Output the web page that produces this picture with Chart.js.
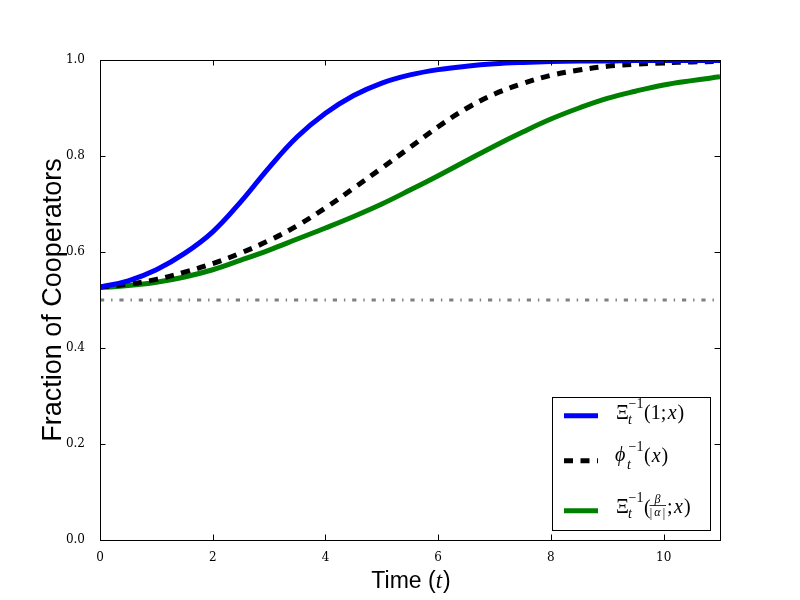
<!DOCTYPE html>
<html>
<head>
<meta charset="utf-8">
<script src="https://cdn.jsdelivr.net/npm/chart.js@4"></script>
<style>
  html, body { margin: 0; padding: 0; background: #fff; }
  canvas { display: block; }
</style>
</head>
<body>
<canvas id="c" width="800" height="600"></canvas>
<script>
// ---- data ----
const times = [0, 0.5, 1, 1.5, 2, 2.5, 3, 3.5, 4, 4.5, 5, 5.5, 6, 6.5, 7, 7.5, 8, 8.5, 9, 9.5, 10, 10.5, 11];
const xiOne = [0.527, 0.540, 0.563, 0.597, 0.642, 0.705, 0.776, 0.840, 0.889, 0.926, 0.952, 0.969, 0.980, 0.987, 0.992, 0.995, 0.997, 0.998, 0.998, 0.999, 0.999, 0.999, 0.999];
const phiInv = [0.527, 0.533, 0.543, 0.558, 0.576, 0.598, 0.624, 0.655, 0.692, 0.733, 0.775, 0.818, 0.861, 0.899, 0.929, 0.951, 0.968, 0.979, 0.987, 0.991, 0.994, 0.996, 0.997];
const xiBeta = [0.526, 0.530, 0.537, 0.548, 0.563, 0.583, 0.604, 0.627, 0.650, 0.674, 0.700, 0.729, 0.759, 0.790, 0.821, 0.850, 0.877, 0.900, 0.920, 0.935, 0.948, 0.957, 0.965];
const refTimes = [0, 11];
const refLevel = [0.5, 0.5];
const xTicks = [0, 2, 4, 6, 8, 10];
const yTicks = [0.0, 0.2, 0.4, 0.6, 0.8, 1.0];
const xLabel = 'Time (';
const xLabelVar = 't';
const yLabel = 'Fraction of Cooperators';

const pts = (xs, ys) => xs.map((x, i) => ({ x: x, y: ys[i] }));

const SERIF = '"Liberation Serif", "DejaVu Serif", serif';

function seq(ctx, x, y, parts) {
  for (const p of parts) {
    ctx.font = p.f;
    ctx.fillText(p.t, x, y + (p.dy || 0));
    x += ctx.measureText(p.t).width + (p.k || 0);
  }
  return x;
}

const framePlugin = {
  id: 'frame',
  afterDatasetsDraw(chart) {
    const ctx = chart.ctx;
    const a = chart.chartArea;
    const xs = chart.scales.x, ys = chart.scales.y;
    ctx.save();
    ctx.strokeStyle = '#000';
    ctx.lineWidth = 1;
    // inward ticks
    ctx.beginPath();
    const tl = 5.5;
    xTicks.forEach(v => {
      const px = Math.round(xs.getPixelForValue(v)) + 0.5;
      ctx.moveTo(px, a.bottom); ctx.lineTo(px, a.bottom - tl);
      ctx.moveTo(px, a.top); ctx.lineTo(px, a.top + tl);
    });
    yTicks.forEach(v => {
      const py = Math.round(ys.getPixelForValue(v)) + 0.5;
      ctx.moveTo(a.left, py); ctx.lineTo(a.left + tl, py);
      ctx.moveTo(a.right, py); ctx.lineTo(a.right - tl, py);
    });
    ctx.stroke();
    // frame
    ctx.strokeRect(a.left + 0.5, a.top + 0.5, a.right - a.left, a.bottom - a.top);

    // legend box
    ctx.fillStyle = '#fff';
    ctx.fillRect(552.5, 397.5, 158, 133);
    ctx.strokeRect(552.5, 397.5, 158, 133);
    const ds = chart.data.datasets;
    const rows = [415.7, 460.7, 510.7];
    [0, 1, 2].forEach((di, r) => {
      const d = ds[di];
      ctx.beginPath();
      ctx.strokeStyle = d.borderColor;
      ctx.lineWidth = d.borderWidth;
      ctx.setLineDash(d.borderDash || []);
      ctx.lineCap = 'butt';
      ctx.moveTo(564, rows[r]);
      ctx.lineTo(598, rows[r]);
      ctx.stroke();
    });
    ctx.setLineDash([]);
    ctx.fillStyle = '#000';
    ctx.textAlign = 'left';
    ctx.textBaseline = 'alphabetic';
    const M = '20px ' + SERIF, MI = 'italic 20px ' + SERIF;
    const S = '14px ' + SERIF, SI = 'italic 14px ' + SERIF;
    // row 1: Xi_t^{-1}(1;x)
    ctx.font = M; ctx.fillText('Ξ', 616, 419);
    ctx.font = SI; ctx.fillText('t', 628, 423.5);
    ctx.font = S; ctx.fillText('−1', 628.5, 408);
    seq(ctx, 644, 419, [{ t: '(1;', f: M, k: 1.5 }, { t: 'x', f: MI, k: 1 }, { t: ')', f: M }]);
    // row 2: phi_t^{-1}(x)
    ctx.font = MI; ctx.fillText('ϕ', 615, 461);
    ctx.font = SI; ctx.fillText('t', 627, 469);
    ctx.font = S; ctx.fillText('−1', 628.5, 451);
    seq(ctx, 644, 462, [{ t: '(', f: M, k: 1 }, { t: 'x', f: MI, k: 1 }, { t: ')', f: M }]);
    // row 3: Xi_t^{-1}(beta/|alpha|;x)
    ctx.font = M; ctx.fillText('Ξ', 616, 513);
    ctx.font = SI; ctx.fillText('t', 628, 518);
    ctx.font = S; ctx.fillText('−1', 628.5, 502);
    ctx.font = M; ctx.fillText('(', 644, 514);
    const F = 'italic 12px ' + SERIF, FR = '12px ' + SERIF;
    ctx.textAlign = 'center';
    ctx.font = F; ctx.fillText('β', 657.5, 503);
    ctx.font = FR; ctx.fillText('|', 651, 517); ctx.fillText('|', 664, 517);
    ctx.font = F; ctx.fillText('α', 657.5, 516);
    ctx.textAlign = 'left';
    ctx.beginPath();
    ctx.lineWidth = 0.8;
    ctx.strokeStyle = '#000';
    ctx.moveTo(649.5, 505.5); ctx.lineTo(666, 505.5);
    ctx.stroke();
    seq(ctx, 667, 513, [{ t: ';', f: M, k: 1.5 }, { t: 'x', f: MI, k: 1 }, { t: ')', f: M }]);

    // x axis title with italic t
    const TS = '23px "Liberation Sans", Arial, sans-serif';
    const TI = 'italic 23px ' + SERIF;
    ctx.font = TS; const w1 = ctx.measureText(xLabel).width;
    ctx.font = TI; const w2 = ctx.measureText(xLabelVar).width + 1;
    ctx.font = TS; const w3 = ctx.measureText(')').width;
    const cx = (a.left + a.right) / 2 + 1;
    let x0 = cx - (w1 + w2 + w3) / 2;
    ctx.font = TS; ctx.fillText(xLabel, x0, 588);
    ctx.font = TI; ctx.fillText(xLabelVar, x0 + w1, 588);
    ctx.font = TS; ctx.fillText(')', x0 + w1 + w2, 588);
    ctx.restore();
  }
};

new Chart(document.getElementById('c'), {
  type: 'line',
  data: {
    datasets: [
      { data: pts(times, xiOne), borderColor: '#0000ff', borderWidth: 5, tension: 0.4 },
      { data: pts(times, phiInv), borderColor: '#000000', borderWidth: 5, borderDash: [9, 7.5], tension: 0.4 },
      { data: pts(times, xiBeta), borderColor: '#008000', borderWidth: 5, tension: 0.4 },
      { data: pts(refTimes, refLevel), borderColor: '#808080', borderWidth: 3, borderDash: [4.2, 6.9, 1.4, 6.9], tension: 0 }
    ]
  },
  options: {
    responsive: false,
    animation: false,
    devicePixelRatio: 1,
    layout: { padding: { left: 0, top: 60, right: 80, bottom: 0 } },
    elements: { point: { radius: 0 }, line: { fill: false, borderCapStyle: 'butt' } },
    plugins: { legend: { display: false }, tooltip: { enabled: false } },
    scales: {
      x: {
        type: 'linear', min: 0, max: 11,
        grid: { display: false }, border: { display: false },
        afterBuildTicks: s => { s.ticks = xTicks.map(v => ({ value: v })); },
        afterFit: s => { s.height = 60; },
        ticks: { color: '#000', padding: 3, font: { family: '"DejaVu Serif", serif', size: 12 }, callback: v => String(v) }
      },
      y: {
        type: 'linear', min: 0, max: 1,
        grid: { display: false }, border: { display: false },
        afterBuildTicks: s => { s.ticks = yTicks.map(v => ({ value: v })); },
        afterFit: s => { s.width = 100; },
        ticks: { color: '#000', padding: 7, font: { family: '"DejaVu Serif", serif', size: 12 }, callback: v => Number(v).toFixed(1) },
        title: { display: true, text: yLabel, color: '#000', font: { family: '"Liberation Sans", Arial, sans-serif', size: 27 }, padding: { top: 37, bottom: 0 } }
      }
    }
  },
  plugins: [framePlugin]
});
</script>
</body>
</html>
